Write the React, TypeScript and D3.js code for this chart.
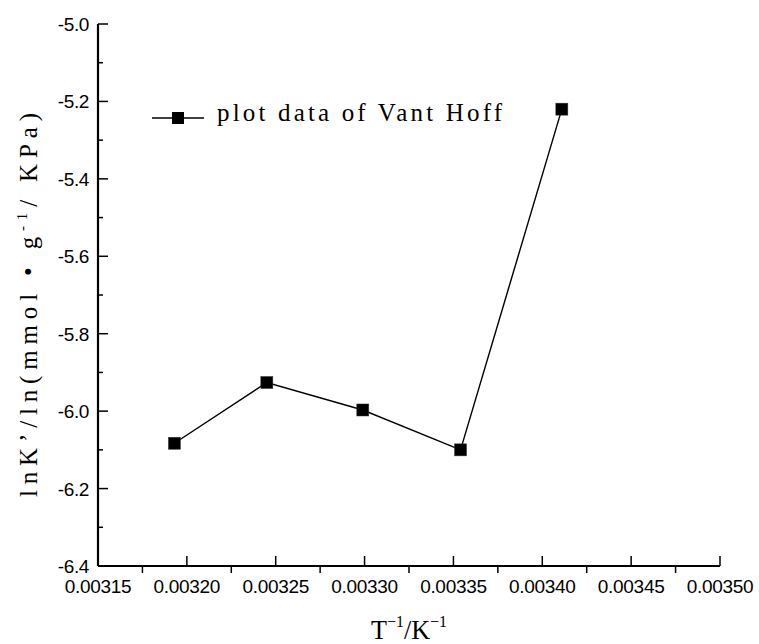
import React from "react";
import * as d3 from "d3";

// data (1/T in K^-1, lnK')
const invT = [0.003193, 0.003245, 0.003299, 0.003354, 0.003411];
const lnK = [-6.083, -5.926, -5.997, -6.1, -5.22];
const xTickLabels = ["0.00315", "0.00320", "0.00325", "0.00330", "0.00335", "0.00340", "0.00345", "0.00350"];
const yTickLabels = ["-6.4", "-6.2", "-6.0", "-5.8", "-5.6", "-5.4", "-5.2", "-5.0"];
const seriesName = "plot data of Vant Hoff";

const sansFont = "'Liberation Sans', Arial, sans-serif";
const serifFont = "'Liberation Serif', 'Times New Roman', serif";

const App = () => {
  const width = 759;
  const height = 644;
  const left = 98;
  const right = 720;
  const top = 24;
  const bottom = 566;

  const xTicks = xTickLabels.map(Number);
  const yTicks = yTickLabels.map(Number);

  const x = d3.scaleLinear().domain([xTicks[0], xTicks[xTicks.length - 1]]).range([left, right]);
  const y = d3.scaleLinear().domain([yTicks[0], yTicks[yTicks.length - 1]]).range([bottom, top]);

  const xMinor = xTicks.slice(1).map((t, i) => (t + xTicks[i]) / 2);
  const yMinor = yTicks.slice(1).map((t, i) => (t + yTicks[i]) / 2);

  const points = invT.map((v, i) => [v, lnK[i]] as [number, number]);
  const line = d3
    .line<[number, number]>()
    .x((d) => x(d[0]))
    .y((d) => y(d[1]));

  const sq = 12;

  return (
    <svg
      width={width}
      height={height}
      style={{ position: "absolute", left: 0, top: 0, background: "#fff" }}
    >
      {/* data */}
      <path d={line(points) ?? ""} fill="none" stroke="#000" strokeWidth={1.4} />
      {points.map((d, i) => (
        <rect
          key={i}
          x={x(d[0]) - sq / 2}
          y={y(d[1]) - sq / 2}
          width={sq}
          height={sq}
          fill="#000"
          stroke="#333"
          strokeWidth={0.5}
        />
      ))}

      {/* y axis */}
      <line x1={left} x2={left} y1={top} y2={bottom} stroke="#000" strokeWidth={2.2} />
      {yTicks.map((t, i) => (
        <g key={t}>
          <line x1={left} x2={left + 10} y1={y(t)} y2={y(t)} stroke="#000" strokeWidth={1.5} />
          <text
            x={left - 9}
            y={y(t) + 7}
            textAnchor="end"
            fontFamily={sansFont}
            fontSize={19}
            letterSpacing={-0.4}
          >
            {yTickLabels[i]}
          </text>
        </g>
      ))}
      {yMinor.map((t) => (
        <line key={t} x1={left} x2={left + 5} y1={y(t)} y2={y(t)} stroke="#000" strokeWidth={1.5} />
      ))}

      {/* x axis */}
      <line x1={left} x2={right} y1={bottom} y2={bottom} stroke="#000" strokeWidth={2.2} />
      {xTicks.map((t, i) => (
        <g key={t}>
          <line x1={x(t)} x2={x(t)} y1={bottom} y2={bottom - 10} stroke="#000" strokeWidth={1.5} />
          <text
            x={x(t)}
            y={bottom + 27}
            textAnchor="middle"
            fontFamily={sansFont}
            fontSize={19}
            letterSpacing={-0.3}
          >
            {xTickLabels[i]}
          </text>
        </g>
      ))}
      {xMinor.map((t) => (
        <line key={t} x1={x(t)} x2={x(t)} y1={bottom} y2={bottom + 7} stroke="#000" strokeWidth={1.5} />
      ))}

      {/* axis titles */}
      <text x={371} y={639} fontFamily={serifFont} fontSize={28} textLength={76} lengthAdjust="spacingAndGlyphs">
        T
        <tspan fontSize={17} dy={-12}>−1</tspan>
        <tspan fontSize={28} dy={12}>/K</tspan>
        <tspan fontSize={17} dy={-12}>−1</tspan>
      </text>
      <text
        transform="translate(37,497) rotate(-90)"
        fontFamily={serifFont}
        fontSize={25}
        textLength={384}
        lengthAdjust="spacing"
      >
        lnK’/ln(mmol • g
        <tspan fontSize={15} dy={-10}>-1</tspan>
        <tspan dy={10}>/ KPa)</tspan>
      </text>

      {/* legend */}
      <line x1={152} x2={204} y1={118} y2={118} stroke="#000" strokeWidth={1.4} />
      <rect x={178 - sq / 2} y={118 - sq / 2} width={sq} height={sq} fill="#000" />
      <text
        x={217}
        y={121}
        fontFamily={serifFont}
        fontSize={25}
        textLength={285}
        lengthAdjust="spacing"
      >
        {seriesName}
      </text>
    </svg>
  );
};

export default App;
